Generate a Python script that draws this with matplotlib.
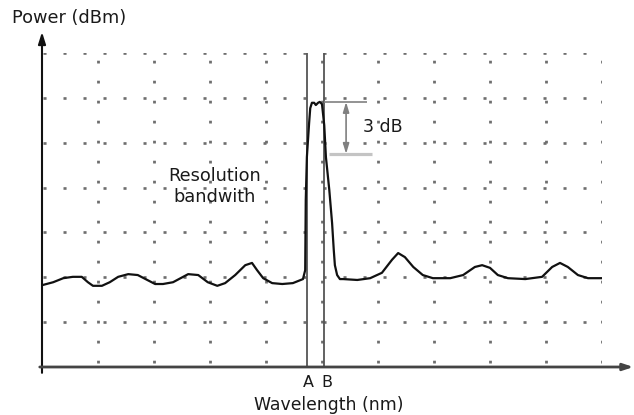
import numpy as np
import matplotlib
matplotlib.use("Agg")
import matplotlib.pyplot as plt

plt.rcParams['lines.scale_dashes'] = False

# spectrum trace: wavelength in grid divisions, power in grid divisions
wavelength = [0.02, 0.20, 0.38, 0.55, 0.71, 0.82, 0.91, 1.07, 1.21, 1.36,
              1.54, 1.71, 1.88, 2.02, 2.16, 2.34, 2.61, 2.79, 2.96, 3.13,
              3.27, 3.45, 3.63, 3.75, 3.84, 3.95, 4.11, 4.29, 4.48, 4.66,
              4.70, 4.71, 4.73, 4.77, 4.79, 4.82, 4.86, 4.89, 4.93, 4.96,
              5.00, 5.04, 5.07, 5.13, 5.18, 5.21, 5.23, 5.27, 5.32, 5.38,
              5.63, 5.86, 6.07, 6.25, 6.36, 6.48, 6.63, 6.80, 6.98, 7.29,
              7.52, 7.73, 7.86, 8.00, 8.14, 8.32, 8.63, 8.93, 9.11, 9.25,
              9.39, 9.57, 9.75, 10.0]
power = [1.83, 1.89, 1.98, 2.01, 2.01, 1.89, 1.81, 1.81, 1.89, 2.01,
         2.07, 2.05, 1.94, 1.85, 1.85, 1.89, 2.07, 2.05, 1.89, 1.81,
         1.87, 2.05, 2.27, 2.32, 2.16, 1.98, 1.87, 1.85, 1.87, 1.96,
         2.16, 3.72, 4.68, 5.44, 5.77, 5.89, 5.89, 5.84, 5.89, 5.91,
         5.86, 5.39, 4.68, 3.95, 3.21, 2.61, 2.27, 2.05, 1.96, 1.96,
         1.94, 1.98, 2.10, 2.39, 2.54, 2.45, 2.23, 2.05, 1.98, 1.98,
         2.05, 2.23, 2.27, 2.21, 2.05, 1.98, 1.96, 2.01, 2.23, 2.32,
         2.23, 2.05, 1.98, 1.98]

# resolution bandwidth edges and the -3 dB level
edge_a = 4.73
edge_b = 5.04
peak_level = max(power)
minus_3db_level = 4.75

fig = plt.figure(figsize=(6.34, 4.15), dpi=100)
ax = fig.add_axes((42 / 634, 48 / 415, 560 / 634, 314 / 415))
ax.set_xlim(0, 10)
ax.set_ylim(0, 7)
ax.set_axis_off()

grid_col = '#6e6e6e'
ink = '#1a1a1a'

# dashed horizontal grid
ax.hlines(np.arange(1, 8), 0.02, 10.0, colors=grid_col, linewidth=1.9,
          linestyles=[(0, (2.2, 12.2))])
# dotted vertical grid
ax.vlines(np.arange(1, 11), 0.09, 7.25, colors=grid_col, linewidth=2.0,
          linestyles=[(0, (2.0, 12.4))])

# axes with arrow heads
ax.annotate('', xy=(0, 7.47), xytext=(0, -0.13), xycoords='data',
            annotation_clip=False,
            arrowprops=dict(arrowstyle='-|>,head_length=0.7,head_width=0.22',
                            color='#111111', lw=1.5, shrinkA=0, shrinkB=0))
ax.annotate('', xy=(10.56, 0), xytext=(-0.04, 0), xycoords='data',
            annotation_clip=False,
            arrowprops=dict(arrowstyle='-|>,head_length=0.6,head_width=0.2',
                            color='#444444', lw=2.0, shrinkA=0, shrinkB=0))

# resolution bandwidth markers A and B
ax.vlines([edge_a, edge_b], 0, 7, colors='#555555', linewidth=1.3)

# spectrum
ax.plot(wavelength, power, color='#111111', linewidth=1.6,
        solid_joinstyle='round', zorder=5)

# 3 dB markers
ax.hlines(peak_level, edge_b, 5.80, colors='#808080', linewidth=1.2)
ax.hlines(minus_3db_level, 5.13, 5.89, colors='#c4c4c4', linewidth=2.3)
ax.annotate('', xy=(5.43, minus_3db_level), xytext=(5.43, peak_level),
            arrowprops=dict(arrowstyle='<|-|>,head_length=0.6,head_width=0.18',
                            color='#808080', lw=1.2, shrinkA=0, shrinkB=0))
ax.text(5.73, 5.34, '3 dB', fontsize=12.5, color=ink, ha='left', va='center')

ax.text(3.08, 4.03, 'Resolution\nbandwith', fontsize=12.8, color=ink,
        ha='center', va='center', linespacing=1.2)

# A / B labels and axis titles
ax.text(edge_a + 0.02, -0.34, 'A', fontsize=11.5, color=ink,
        ha='center', va='center')
ax.text(edge_b + 0.05, -0.34, 'B', fontsize=11.5, color=ink,
        ha='center', va='center')
fig.text(329 / 634, 1 - 405 / 415, 'Wavelength (nm)', fontsize=12.4,
         color=ink, ha='center', va='center')
fig.text(69 / 634, 1 - 18 / 415, 'Power (dBm)', fontsize=12.8,
         color=ink, ha='center', va='center')

fig.savefig('out.png', dpi=100)
